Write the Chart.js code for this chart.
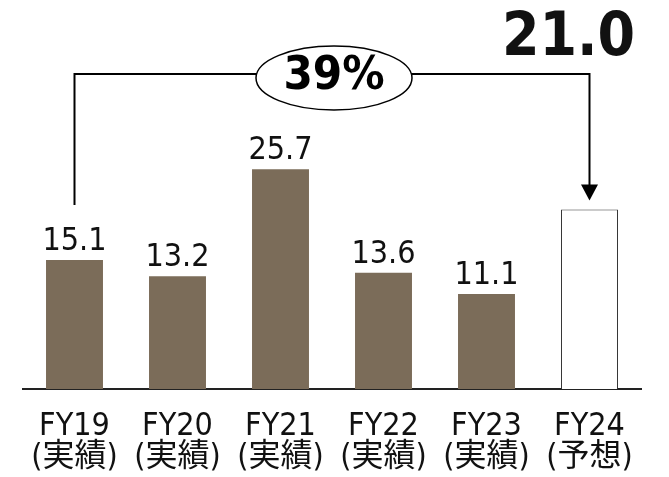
<!DOCTYPE html>
<html>
<head>
<meta charset="utf-8">
<script src="https://cdn.jsdelivr.net/npm/chart.js@4/dist/chart.umd.min.js"></script>
<style>
  html, body { margin: 0; padding: 0; background: #fff; }
  #wrap { width: 669px; height: 477px; }
</style>
</head>
<body>
<div id="wrap"><canvas id="c" width="669" height="477"></canvas></div>
<script>
const categories = ['FY19', 'FY20', 'FY21', 'FY22', 'FY23', 'FY24'];
const categoryNotes = ['(実績)', '(実績)', '(実績)', '(実績)', '(実績)', '(予想)'];
const values = [15.1, 13.2, 25.7, 13.6, 11.1, 21.0];
const isForecast = [false, false, false, false, false, true];
const growthLabel = '39%';

const FONT = "'DejaVu Sans Condensed', 'DejaVu Sans', 'Noto Sans CJK JP', sans-serif";
const BROWN = '#7b6c59';

const annotationPlugin = {
  id: 'annot',
  afterDatasetsDraw(chart) {
    const ctx = chart.ctx;
    const meta = chart.getDatasetMeta(0);
    const bars = meta.data;
    ctx.save();
    // value labels
    ctx.fillStyle = '#111';
    ctx.textAlign = 'center';
    ctx.textBaseline = 'alphabetic';
    ctx.font = "32px " + FONT;
    bars.forEach((b, i) => {
      if (isForecast[i]) return;
      ctx.fillText(values[i].toFixed(1), b.x, b.y - 10);
    });
    // forecast big label
    const last = bars[bars.length - 1];
    ctx.font = "bold 60px " + FONT;
    ctx.fillText(values[values.length - 1].toFixed(1), last.x - 21, 55);

    // bracket
    const first = bars[0];
    const lineY = 74;
    ctx.strokeStyle = '#000';
    ctx.lineWidth = 2;
    ctx.beginPath();
    ctx.moveTo(first.x, first.y - 55);
    ctx.lineTo(first.x, lineY);
    ctx.lineTo(last.x, lineY);
    ctx.lineTo(last.x, last.y - 22);
    ctx.stroke();
    // arrow head
    const tipY = last.y - 9;
    ctx.fillStyle = '#000';
    ctx.beginPath();
    ctx.moveTo(last.x, tipY);
    ctx.lineTo(last.x - 8.5, tipY - 16);
    ctx.lineTo(last.x + 8.5, tipY - 16);
    ctx.closePath();
    ctx.fill();

    // ellipse
    const cx = (first.x + last.x) / 2 + 2;
    const cy = 78;
    ctx.beginPath();
    ctx.ellipse(cx, cy, 78, 32, 0, 0, Math.PI * 2);
    ctx.fillStyle = '#fff';
    ctx.fill();
    ctx.lineWidth = 1.5;
    ctx.stroke();
    ctx.fillStyle = '#000';
    ctx.font = "bold 47px " + FONT;
    ctx.textBaseline = 'middle';
    ctx.fillText(growthLabel, cx, cy - 1);
    ctx.restore();
  }
};

new Chart(document.getElementById('c'), {
  type: 'bar',
  data: {
    labels: categories.map((c, i) => [c, categoryNotes[i]]),
    datasets: [{
      data: values,
      backgroundColor: isForecast.map(f => f ? '#ffffff' : BROWN),
      borderColor: isForecast.map(f => f ? '#333333' : BROWN),
      borderWidth: isForecast.map(f => f ? 1 : 0),
      barPercentage: 0.553,
      categoryPercentage: 1.0
    }]
  },
  options: {
    responsive: false,
    animation: false,
    devicePixelRatio: 1,
    layout: { padding: { left: 23, right: 28, top: 47, bottom: 0 } },
    plugins: { legend: { display: false }, tooltip: { enabled: false } },
    scales: {
      x: {
        afterFit(scale) { scale.height = 88; },
        grid: { display: false, drawTicks: false },
        border: { display: true, color: '#222', width: 2 },
        ticks: {
          color: '#111',
          font: { family: FONT, size: 32, lineHeight: 0.985 },
          padding: 21.5,
          maxRotation: 0,
          autoSkip: false
        }
      },
      y: { display: false, min: 0, max: 40 }
    }
  },
  plugins: [annotationPlugin]
});
</script>
</body>
</html>
